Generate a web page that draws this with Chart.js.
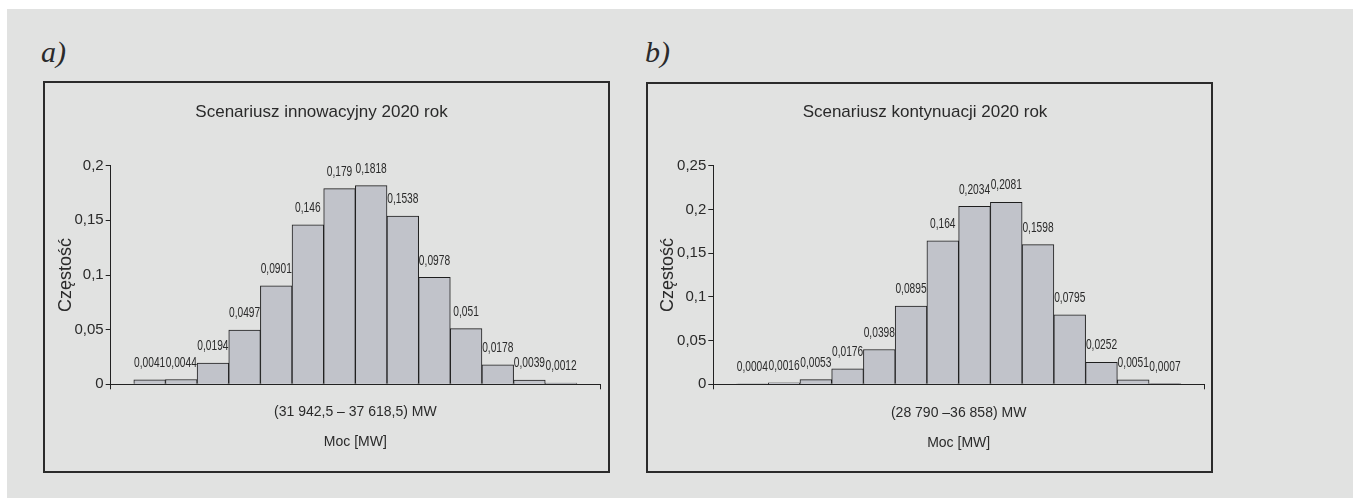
<!DOCTYPE html>
<html lang="pl">
<head>
  <meta charset="UTF-8" />
  <title>Scenariusze 2020 - histogramy mocy</title>
  <script src="https://cdn.jsdelivr.net/npm/chart.js"></script>
  <style>
    body { margin: 0; background: #fff; width: 1353px; height: 498px; overflow: hidden; position: relative; }
    .bg { position: absolute; left: 7px; top: 9px; right: 0; bottom: 0; background: #e1e2e1; }
    .tag { position: absolute; font-family: 'Liberation Serif', serif; font-style: italic; font-size: 30px; color: #2a2a2a; line-height: 30px; }
    canvas { position: absolute; }
  </style>
</head>
<body>
  <div class="bg"></div>
  <div class="tag" style="left:41px; top:37px;">a)</div>
  <div class="tag" style="left:645px; top:37px;">b)</div>
  <canvas id="chartA" width="567" height="392" style="left:43px; top:81px;"></canvas>
  <canvas id="chartB" width="567" height="391" style="left:646px; top:82px;"></canvas>

  <script>
    // przedzialy (numery klas) i czestosci
    const bins = [1, 2, 3, 4, 5, 6, 7, 8, 9, 10, 11, 12, 13, 14];
    const freqA = [0.0041, 0.0044, 0.0194, 0.0497, 0.0901, 0.146, 0.179, 0.1818, 0.1538, 0.0978, 0.051, 0.0178, 0.0039, 0.0012];
    const freqB = [0.0004, 0.0016, 0.0053, 0.0176, 0.0398, 0.0895, 0.164, 0.2034, 0.2081, 0.1598, 0.0795, 0.0252, 0.0051, 0.0007];
    const titleA = "Scenariusz innowacyjny 2020 rok";
    const titleB = "Scenariusz kontynuacji 2020 rok";
    const rangeA = "(31 942,5 \u2013 37 618,5) MW";
    const rangeB = "(28 790 \u201336 858) MW";
    const xLabel = "Moc [MW]";
    const yLabel = "Częstość";
    const yMaxA = 0.2, yMaxB = 0.25, yStep = 0.05;

    const SANS = "'Liberation Sans', Arial, sans-serif";
    const INK = '#2a2a2a';

    function comma(v) {
      return String(Number(v.toFixed(4))).replace('.', ',');
    }

    const framePlugin = {
      id: 'frame',
      afterDraw(chart) {
        const ctx = chart.ctx;
        ctx.save();
        ctx.strokeStyle = '#2b2b2b';
        ctx.lineWidth = 2;
        ctx.strokeRect(1, 1, chart.width - 2, chart.height - 2);
        ctx.restore();
      }
    };

    // etykiety wartosci nad slupkami (waskie pismo -> scisniete w poziomie)
    const valueLabels = {
      id: 'valueLabels',
      afterDatasetsDraw(chart) {
        const ctx = chart.ctx;
        const meta = chart.getDatasetMeta(0);
        const data = chart.data.datasets[0].data;
        ctx.save();
        ctx.font = '15px ' + SANS;
        ctx.fillStyle = INK;
        ctx.textAlign = 'center';
        ctx.textBaseline = 'middle';
        meta.data.forEach((bar, i) => {
          ctx.save();
          ctx.translate(bar.x, bar.y - 17);
          ctx.scale(0.68, 1);
          ctx.fillText(comma(data[i].y), 0, 0);
          ctx.restore();
        });
        ctx.restore();
      }
    };

    function makeChart(id, freq, title, range, yMax, g) {
      const xMin = bins[0] - 1.23;
      const xMax = bins[bins.length - 1] + 1.23;
      return new Chart(document.getElementById(id), {
        type: 'bar',
        data: {
          datasets: [{
            data: bins.map((b, i) => ({ x: b, y: freq[i] })),
            backgroundColor: '#c1c3ca',
            borderColor: '#1e1e1e',
            borderWidth: 1,
            categoryPercentage: 1,
            barPercentage: 1
          }]
        },
        options: {
          responsive: false,
          animation: false,
          layout: { padding: { left: 0, right: g.padRight, top: 0, bottom: 0 } },
          plugins: {
            legend: { display: false },
            tooltip: { enabled: false },
            title: {
              display: true,
              text: title,
              color: INK,
              font: { family: SANS, size: 17, weight: 'normal', lineHeight: 1.2 },
              padding: { top: g.titleTop, bottom: g.titleBottom }
            }
          },
          scales: {
            x: {
              type: 'linear',
              min: xMin,
              max: xMax,
              offset: false,
              afterBuildTicks: (s) => { s.ticks = [{ value: xMin }, { value: xMax }]; },
              ticks: { display: false },
              grid: { offset: false, drawOnChartArea: false, drawTicks: true, tickLength: 5, color: '#222', lineWidth: 1 },
              border: { display: true, color: '#222', width: 1 },
              title: {
                display: true,
                text: [range, xLabel],
                color: INK,
                font: { family: SANS, size: 14, lineHeight: 2.16 },
                padding: { top: 0, bottom: g.xTitleBottom }
              },
              afterFit: (s) => { s.height = g.xHeight; }
            },
            y: {
              min: 0,
              max: yMax,
              ticks: {
                stepSize: yStep,
                color: INK,
                padding: 2,
                font: { family: SANS, size: 15 },
                callback: (v) => comma(v)
              },
              grid: { drawOnChartArea: false, drawTicks: true, tickLength: 5, color: '#222', lineWidth: 1 },
              border: { display: true, color: '#222', width: 1 },
              title: {
                display: true,
                text: yLabel,
                color: INK,
                font: { family: SANS, size: 18, lineHeight: 1.2 },
                padding: { top: g.yTitleTop, bottom: 0 }
              },
              afterFit: (s) => { s.width = g.yWidth; }
            }
          }
        },
        plugins: [valueLabels, framePlugin]
      });
    }

    makeChart('chartA', freqA, titleA, rangeA, yMaxA,
      { padRight: 10, titleTop: 21.1, titleBottom: 43.2, xHeight: 88.7, xTitleBottom: 15.9, yWidth: 67.7, yTitleTop: 12.2 });
    makeChart('chartB', freqB, titleB, rangeB, yMaxB,
      { padRight: 9, titleTop: 20.1, titleBottom: 43.2, xHeight: 88.7, xTitleBottom: 14.9, yWidth: 67.3, yTitleTop: 11.2 });
  </script>
</body>
</html>
